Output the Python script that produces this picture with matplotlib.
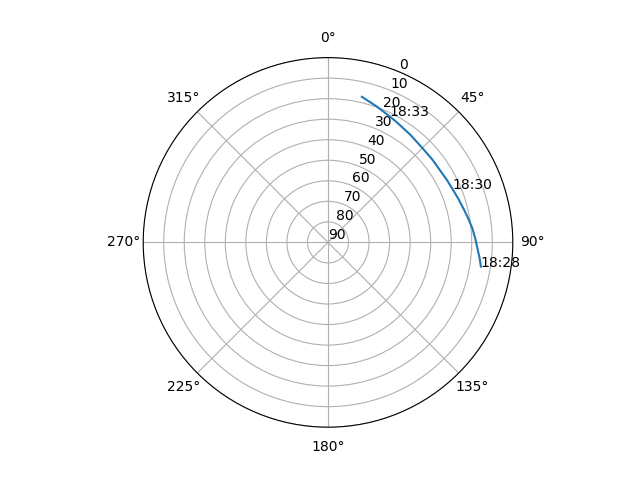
import matplotlib
matplotlib.use("Agg")
import matplotlib.pyplot as plt
import numpy as np

# Satellite pass: azimuth (deg), elevation (deg), in time order
azimuth = [99.0, 95.6, 92.2, 88.3, 84.3, 80.4, 76.4, 71.8, 66.9, 62.3, 57.6, 51.3, 44.8, 37.4, 29.9, 25.8, 19.5, 13.1]
elevation = [14.6, 15.9, 17.2, 18.3, 19.4, 20.7, 21.9, 23.0, 24.0, 24.6, 25.1, 25.1, 25.0, 24.0, 22.6, 21.6, 19.6, 17.2]
time_labels = {0: "18:28", 8: "18:30", 15: "18:33"}

fig = plt.figure(figsize=(6.4, 4.8), dpi=100)
ax = fig.add_subplot(111, projection="polar")
ax.set_theta_zero_location("N")
ax.set_theta_direction(-1)

theta = np.radians(azimuth)
ax.plot(theta, elevation)

for i, lab in time_labels.items():
    ax.text(theta[i], elevation[i], lab)

ax.set_ylim(90, 0)
ax.set_yticks(range(0, 91, 10))

fig.savefig("out.png")
